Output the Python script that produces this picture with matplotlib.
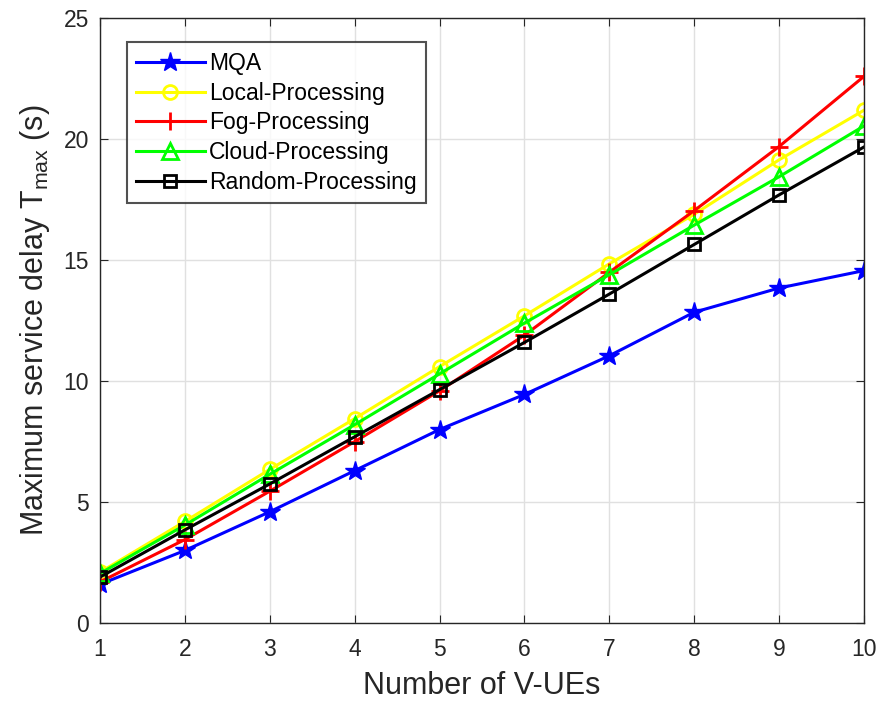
import numpy as np
import matplotlib.pyplot as plt

plt.rcParams['font.family'] = ['Liberation Sans', 'DejaVu Sans']
plt.rcParams['mathtext.fontset'] = 'custom'
plt.rcParams['mathtext.rm'] = 'Liberation Sans'

# number of V-UEs
n_ues = [1, 2, 3, 4, 5, 6, 7, 8, 9, 10]

# maximum service delay (s) per scheme
mqa = [1.6, 3.0, 4.6, 6.3, 8.0, 9.45, 11.05, 12.85, 13.85, 14.57]
local_proc = [2.1, 4.2, 6.35, 8.45, 10.6, 12.7, 14.85, 16.9, 19.15, 21.2]
fog_proc = [1.7, 3.45, 5.45, 7.5, 9.6, 11.9, 14.5, 17.05, 19.7, 22.6]
cloud_proc = [2.05, 4.05, 6.15, 8.2, 10.3, 12.4, 14.4, 16.45, 18.45, 20.55]
random_proc = [1.9, 3.85, 5.75, 7.7, 9.65, 11.6, 13.6, 15.65, 17.7, 19.68]

fig = plt.figure(figsize=(8.81, 7.04), dpi=100)
ax = fig.add_axes([0.1135, 0.115, 0.8672, 0.859])

lw = 2.2
ax.plot(n_ues, mqa, '-*', color='#0000ff', lw=lw, ms=15, label='MQA')
ax.plot(n_ues, local_proc, '-o', color='#ffff00', lw=lw, ms=10, mfc='none', mew=2, label='Local-Processing')
ax.plot(n_ues, fog_proc, '-+', color='#ff0000', lw=lw, ms=13, mew=2, label='Fog-Processing')
ax.plot(n_ues, cloud_proc, '-^', color='#00ff00', lw=lw, ms=11, mfc='none', mew=2, label='Cloud-Processing')
ax.plot(n_ues, random_proc, '-s', color='#000000', lw=lw, ms=8.5, mfc='none', mew=2, label='Random-Processing')

ax.set_xlim(1, 10)
ax.set_ylim(0, 25)
ax.set_xticks(range(1, 11))
ax.set_yticks(range(0, 26, 5))
ax.grid(True, color='#e0e0e0', lw=1)
ax.set_axisbelow(True)
ax.tick_params(direction='in', labelsize=16.5, length=6, colors='#262626', top=True, right=True)
ax.tick_params(axis='x', pad=11)
ax.tick_params(axis='y', pad=8)
for s in ax.spines.values():
    s.set_color('#262626')
    s.set_linewidth(1)

ax.set_xlabel('Number of V-UEs', fontsize=22, color='#262626', labelpad=7)
ax.set_ylabel(r'Maximum service delay T$_{\rm max}$ (s)', fontsize=22, color='#262626', labelpad=8)

leg = ax.legend(loc='upper left', bbox_to_anchor=(0.035, 0.96), fontsize=16.5, frameon=True,
                fancybox=False, edgecolor='#262626', handlelength=3.0, borderpad=0.4,
                labelspacing=0.3, handletextpad=0.2, borderaxespad=0)
leg.get_frame().set_linewidth(1.5)

fig.savefig('out.png', dpi=100)
